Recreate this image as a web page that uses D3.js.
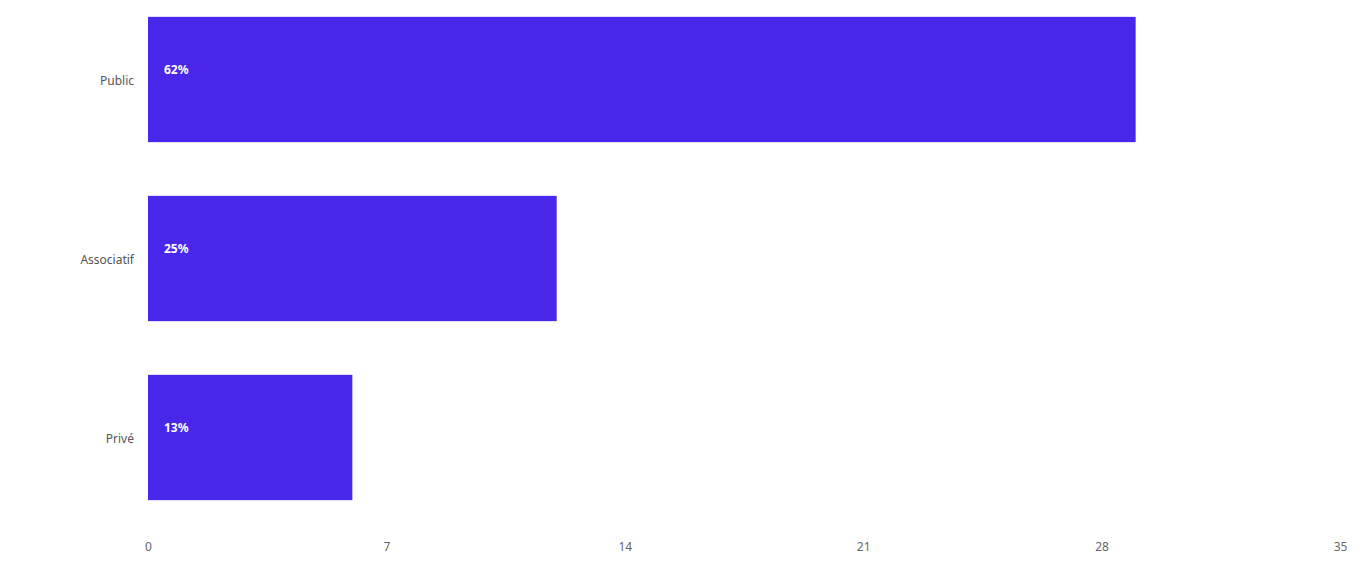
<!DOCTYPE html>
<html lang="fr">
<head>
    <meta charset="utf-8"/>
    <title>Secteur</title>
    <script src="https://d3js.org/d3.v7.min.js"></script>
    <style>
        body { margin: 0; background: #fff; }
        svg { display: block; font-family: "Noto Sans", sans-serif; }
    </style>
</head>
<body>
<svg></svg>
<script>
    const categories = ["Public", "Associatif", "Privé"];
    const values = [29, 12, 6];
    const pctLabels = ["62%", "25%", "13%"];
    const xTicks = [0, 7, 14, 21, 28, 35];

    const width = 1367, height = 585;
    const svg = d3.select("svg").attr("width", width).attr("height", height);

    const x = d3.scaleLinear().domain([0, 35]).range([148, 1340]);
    const y = d3.scaleBand().domain(categories).range([-10, 527])
        .paddingInner(0.3).paddingOuter(0.15);

    const data = categories.map((c, i) => ({cat: c, value: values[i], label: pctLabels[i]}));

    svg.selectAll(".bar")
        .data(data)
        .enter()
        .append("rect")
        .attr("class", "bar")
        .attr("fill", "#4826ea")
        .attr("x", x(0))
        .attr("y", d => y(d.cat))
        .attr("width", d => x(d.value) - x(0))
        .attr("height", y.bandwidth());

    svg.selectAll(".pct")
        .data(data)
        .enter()
        .append("text")
        .attr("class", "pct")
        .attr("x", x(0) + 16)
        .attr("y", d => y(d.cat) + y.bandwidth() / 2 - 10)
        .attr("dy", "0.35em")
        .attr("fill", "#fff")
        .attr("font-size", 12)
        .attr("font-weight", "bold")
        .text(d => d.label);

    // category labels
    const yAxis = svg.append("g")
        .attr("transform", `translate(${x(0) - 6},2)`)
        .call(d3.axisLeft(y).tickSize(0).tickPadding(8));
    yAxis.select(".domain").remove();
    yAxis.selectAll("text").attr("fill", "#555").attr("font-size", 12)
        .attr("font-family", "\"Noto Sans\", sans-serif");

    // value axis
    const xAxis = svg.append("g")
        .attr("transform", "translate(0,534)")
        .call(d3.axisBottom(x).tickValues(xTicks).tickSize(0).tickPadding(8));
    xAxis.select(".domain").remove();
    xAxis.selectAll("text").attr("fill", "#666").attr("font-size", 12)
        .attr("font-family", "\"Noto Sans\", sans-serif");
</script>
</body>
</html>
